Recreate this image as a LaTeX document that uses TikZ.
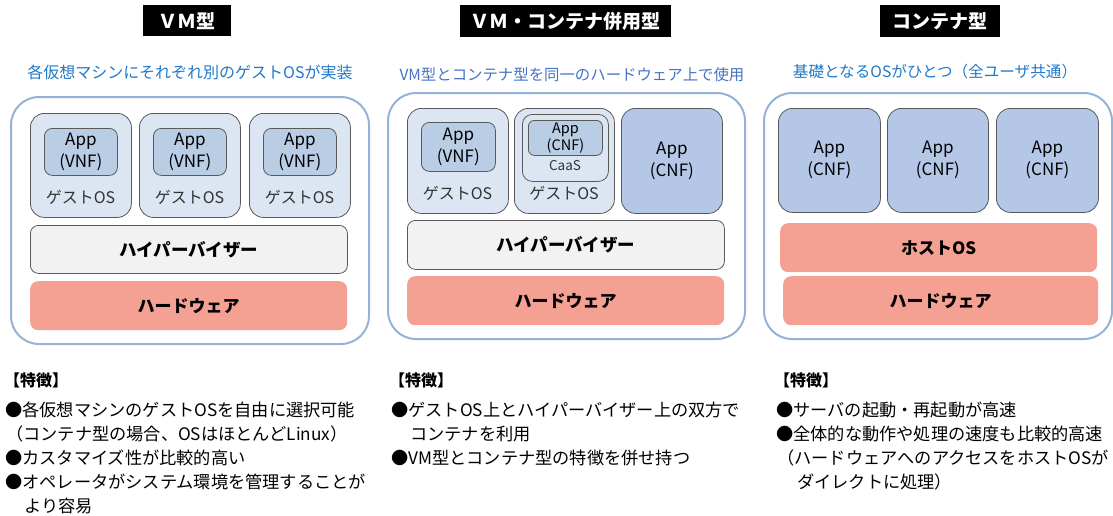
\documentclass[tikz,border=0pt]{standalone}
\usepackage{fontspec}
\setmainfont{Noto Sans CJK JP}
\definecolor{outerblue}{HTML}{95B3D7}
\definecolor{boxline}{HTML}{595959}
\definecolor{guestfill}{HTML}{DCE6F2}
\definecolor{appfill}{HTML}{B9CDE5}
\definecolor{cnffill}{HTML}{B4C7E7}
\definecolor{hypfill}{HTML}{F2F2F2}
\definecolor{salmon}{HTML}{F4A193}
\definecolor{subblue}{HTML}{1F78C8}
\definecolor{subblueb}{HTML}{4472C4}
\tikzset{
  box/.style={anchor=north west, inner sep=0pt, align=center},
  outer/.style={box, draw=outerblue, line width=2pt, rounded corners=28pt, fill=white},
  guest/.style={box, draw=boxline, line width=0.8pt, fill=guestfill, rounded corners=14pt},
  appbox/.style={box, draw=boxline, line width=0.8pt, fill=appfill, rounded corners=8pt, font=\fontsize{17}{22}\selectfont},
  cnfbox/.style={box, draw=boxline, line width=0.8pt, fill=cnffill, rounded corners=14pt, font=\fontsize{17}{22}\selectfont},
  hyp/.style={box, draw=boxline, line width=0.8pt, fill=hypfill, rounded corners=8pt, font=\bfseries\fontsize{17.5}{20}\selectfont},
  hw/.style={box, fill=salmon, rounded corners=8pt, font=\bfseries\fontsize{17}{20}\selectfont},
  gtext/.style={inner sep=0pt, font=\fontsize{16}{18}\selectfont, text=black!80},
  ttl/.style={box, fill=black, text=white, font=\bfseries\fontsize{19}{22}\selectfont},
  sub/.style={inner sep=0pt, font=\fontsize{16}{20}\selectfont},
  feat/.style={anchor=west, inner sep=0pt, font=\fontsize{17.2}{20}\selectfont},
  feath/.style={anchor=west, inner sep=0pt, font=\bfseries\fontsize{16}{20}\selectfont},
}
\begin{document}
\begin{tikzpicture}[x=1pt,y=-1pt]
\useasboundingbox (0,0) rectangle (1113,515);
% titles
\node[ttl, minimum width=88pt, minimum height=31pt] (t1) at (143,5) {ＶＭ型};
\node[ttl, minimum width=211pt, minimum height=32pt] (t2) at (460,5) {ＶＭ・コンテナ併用型};
\node[ttl, minimum width=120pt, minimum height=32pt] (t3) at (880,5) {コンテナ型};
% subtitles
\node[sub, text=subblue] (s1) at (190,72) {各仮想マシンにそれぞれ別のゲストOSが実装};
\node[sub, text=subblueb, font=\fontsize{15.4}{20}\selectfont] (s2) at (572,75) {VM型とコンテナ型を同一のハードウェア上で使用};
\node[sub, text=subblue, font=\fontsize{15.6}{20}\selectfont] (s3) at (935,72) {基礎となるOSがひとつ（全ユーザ共通）};
% ---------------- panel 1
\node[outer, minimum width=358pt, minimum height=247pt] (p1) at (10,96) {};
\node[guest, minimum width=101pt, minimum height=104pt] (p1g1) at (30,113) {};
\node[guest, minimum width=101pt, minimum height=104pt] (p1g2) at (139,113) {};
\node[guest, minimum width=101pt, minimum height=104pt] (p1g3) at (249,113) {};
\node[appbox, minimum width=73pt, minimum height=47pt] (p1a1) at (44,128) {App\\(VNF)};
\node[appbox, minimum width=73pt, minimum height=47pt] (p1a2) at (153,128) {App\\(VNF)};
\node[appbox, minimum width=73pt, minimum height=47pt] (p1a3) at (263,128) {App\\(VNF)};
\node[gtext] (p1l1) at (80.5,197) {ゲストOS};
\node[gtext] (p1l2) at (189.5,197) {ゲストOS};
\node[gtext] (p1l3) at (299.5,197) {ゲストOS};
\node[hyp, minimum width=317pt, minimum height=48pt] (p1h) at (30,225) {ハイパーバイザー};
\node[hw, minimum width=317pt, minimum height=49pt] (p1w) at (30,281) {ハードウェア};
% ---------------- panel 2
\node[outer, minimum width=357pt, minimum height=246pt] (p2) at (387,92) {};
\node[guest, minimum width=101pt, minimum height=105pt] (p2g1) at (407,108) {};
\node[appbox, minimum width=74pt, minimum height=49pt] (p2a1) at (421,122) {App\\(VNF)};
\node[gtext] (p2l1) at (457.5,193) {ゲストOS};
\node[guest, minimum width=100pt, minimum height=105pt] (p2g2) at (514,108) {};
\node[guest, rounded corners=10pt, minimum width=86pt, minimum height=67pt] (p2c) at (522,114) {};
\node[appbox, rounded corners=6pt, minimum width=74pt, minimum height=35pt, font=\fontsize{14.5}{19}\selectfont] (p2a2) at (528,120) {App\\[-2pt](CNF)};
\node[gtext, font=\fontsize{13.5}{16}\selectfont] (p2cl) at (565,166) {CaaS};
\node[gtext] (p2l2) at (564,193) {ゲストOS};
\node[cnfbox, minimum width=101pt, minimum height=105pt] (p2a3) at (621,108) {App\\(CNF)};
\node[hyp, minimum width=317pt, minimum height=49pt] (p2h) at (407,220) {ハイパーバイザー};
\node[hw, minimum width=317pt, minimum height=49pt] (p2w) at (407,276) {ハードウェア};
% ---------------- panel 3
\node[outer, minimum width=348pt, minimum height=246pt] (p3) at (763,92) {};
\node[cnfbox, minimum width=102pt, minimum height=104pt] (p3a1) at (778,108) {App\\(CNF)};
\node[cnfbox, minimum width=101pt, minimum height=104pt] (p3a2) at (887,108) {App\\(CNF)};
\node[cnfbox, minimum width=102pt, minimum height=104pt] (p3a3) at (996,108) {App\\(CNF)};
\node[hw, minimum width=317pt, minimum height=49pt] (p3o) at (780,223) {ホストOS};
\node[hw, minimum width=315pt, minimum height=49pt] (p3w) at (783,276) {ハードウェア};
% ---------------- features
\node[feath] (f1h) at (4,380) {【特徴】};
\node[feat] (f1a) at (5,410) {●各仮想マシンのゲストOSを自由に選択可能};
\node[feat] (f1b) at (6,434) {（コンテナ型の場合、OSはほとんどLinux）};
\node[feat] (f1c) at (5,458) {●カスタマイズ性が比較的高い};
\node[feat] (f1d) at (5,482) {●オペレータがシステム環境を管理することが};
\node[feat] (f1e) at (24,506) {より容易};
\node[feath] (f2h) at (389,380) {【特徴】};
\node[feat] (f2a) at (391,410) {●ゲストOS上とハイパーバイザー上の双方で};
\node[feat] (f2b) at (410,434) {コンテナを利用};
\node[feat] (f2c) at (391,458) {●VM型とコンテナ型の特徴を併せ持つ};
\node[feath] (f3h) at (774,380) {【特徴】};
\node[feat] (f3a) at (776,410) {●サーバの起動・再起動が高速};
\node[feat] (f3b) at (776,434) {●全体的な動作や処理の速度も比較的高速};
\node[feat] (f3c) at (777,458) {（ハードウェアへのアクセスをホストOSが};
\node[feat] (f3d) at (797,482) {ダイレクトに処理）};
\end{tikzpicture}
\end{document}
